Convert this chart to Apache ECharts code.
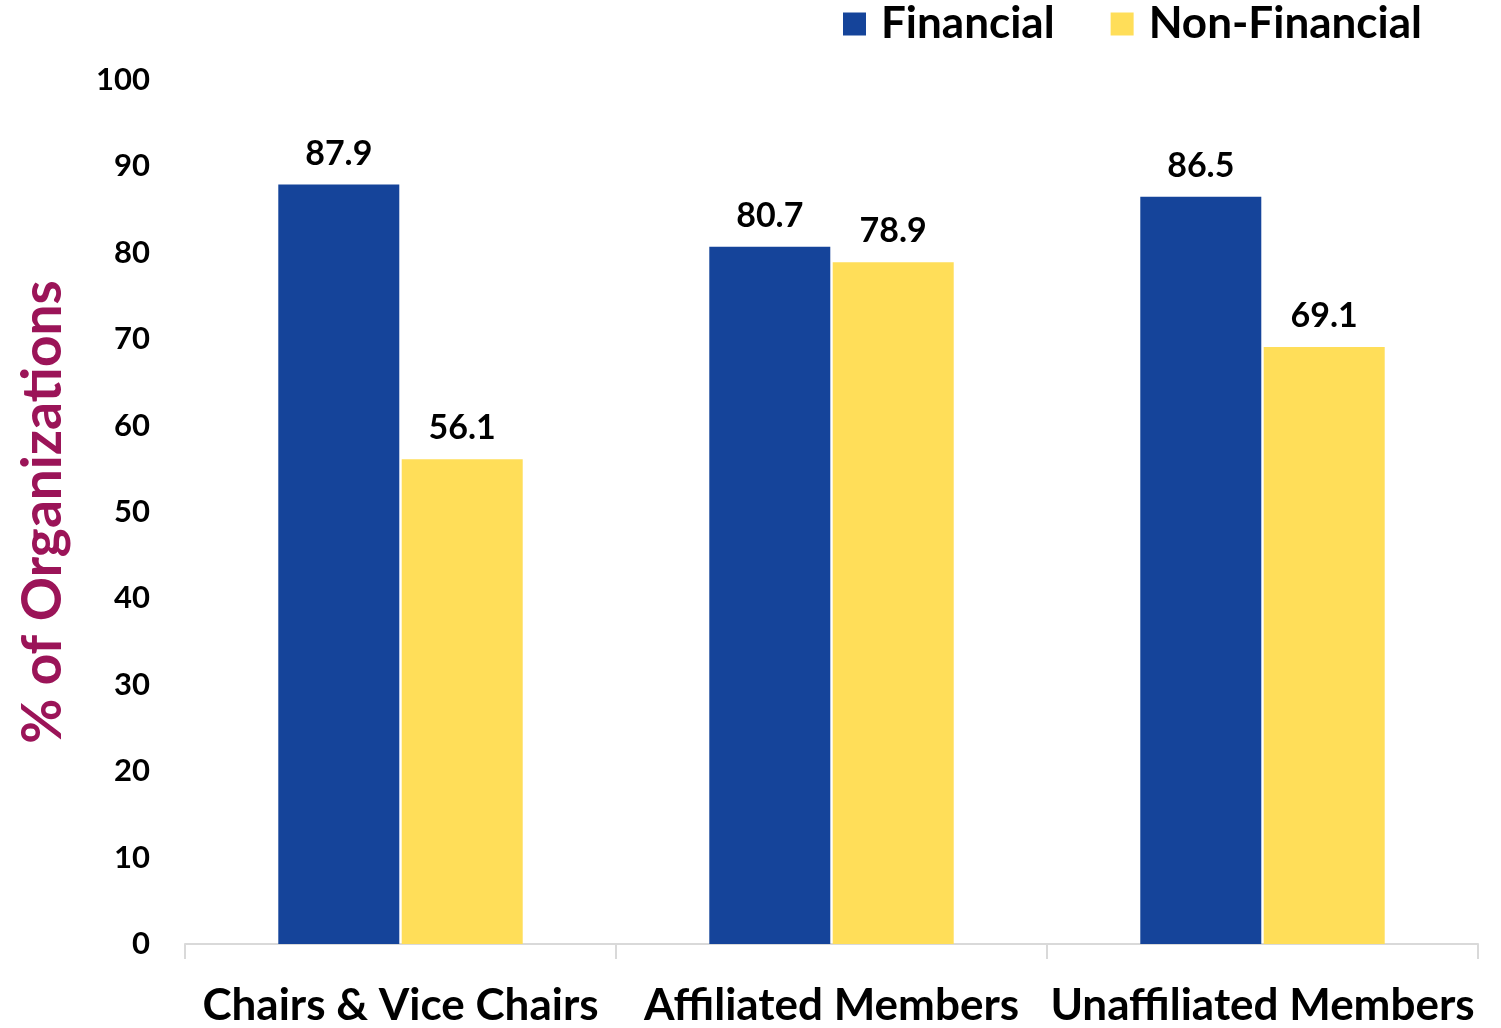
<!DOCTYPE html>
<html>
<head>
<meta charset="utf-8">
<script src="https://cdn.jsdelivr.net/npm/echarts@6/dist/echarts.min.js"></script>
<style>
  html, body { margin: 0; padding: 0; background: #fff; }
  #chart { width: 1501px; height: 1028px; }
</style>
</head>
<body>
<div id="chart"></div>
<script>
// data
const categories = ['Chairs & Vice Chairs', 'Affiliated Members', 'Unaffiliated Members'];
const financial = [87.9, 80.7, 86.5];
const nonFinancial = [56.1, 78.9, 69.1];
const yTicks = { min: 0, max: 100, interval: 10 };

const FONT = 'Lato';
const chart = echarts.init(document.getElementById('chart'));

const labelStyle = {
  show: true,
  position: 'top',
  distance: 14,
  color: '#000',
  fontFamily: FONT,
  fontWeight: 'bold',
  fontSize: 34,
  formatter: p => p.value.toFixed(1)
};

chart.setOption({
  animation: false,
  textStyle: { fontFamily: FONT },
  legend: {
    top: -3,
    right: 74,
    itemWidth: 23,
    itemHeight: 23,
    itemGap: 56,
    icon: 'rect',
    textStyle: {
      fontSize: 44,
      fontWeight: 'bold',
      color: '#000',
      fontFamily: FONT,
      padding: [0, 0, 0, 10]
    },
    data: ['Financial', 'Non-Financial']
  },
  grid: { left: 185, right: 23, top: 80, bottom: 81 },
  xAxis: {
    type: 'category',
    data: categories,
    axisLine: { lineStyle: { color: '#d9d9d9', width: 2 } },
    axisTick: { show: true, length: 15, lineStyle: { color: '#d9d9d9', width: 2 } },
    axisLabel: {
      interval: 0,
      margin: 40,
      color: '#000',
      fontSize: 44,
      fontWeight: 'bold',
      fontFamily: FONT
    }
  },
  yAxis: {
    type: 'value',
    min: yTicks.min,
    max: yTicks.max,
    interval: yTicks.interval,
    name: '% of Organizations',
    nameLocation: 'middle',
    nameRotate: 90,
    nameGap: 114,
    nameTextStyle: { color: '#9b1458', fontSize: 55, fontWeight: 'bold', fontFamily: FONT },
    axisLine: { show: false },
    axisTick: { show: false },
    splitLine: { show: false },
    axisLabel: { margin: 35, color: '#000', fontSize: 31, fontWeight: 'bold', fontFamily: FONT }
  },
  series: [
    {
      name: 'Financial',
      type: 'bar',
      data: financial,
      barWidth: 121,
      barGap: '2%',
      itemStyle: { color: '#15449a' },
      label: labelStyle
    },
    {
      name: 'Non-Financial',
      type: 'bar',
      data: nonFinancial,
      barWidth: 121,
      itemStyle: { color: '#ffde59' },
      label: labelStyle
    }
  ]
});
</script>
</body>
</html>
